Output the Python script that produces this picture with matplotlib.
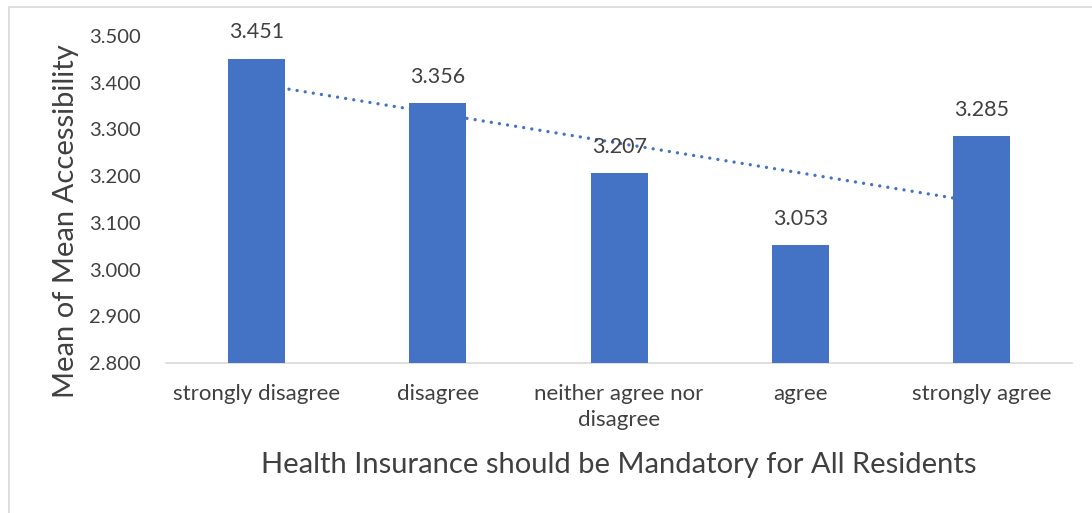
import numpy as np
import matplotlib.pyplot as plt
from matplotlib.patches import Rectangle

categories = ['strongly disagree', 'disagree', 'neither agree nor\ndisagree', 'agree', 'strongly agree']
means = [3.451, 3.356, 3.207, 3.053, 3.285]
yticks = [2.8, 2.9, 3.0, 3.1, 3.2, 3.3, 3.4, 3.5]

bar_color = '#4472C4'
text_color = '#404040'

plt.rcParams['font.family'] = ['Lato', 'DejaVu Sans']

fig = plt.figure(figsize=(10.92, 5.13), dpi=100)
ax = fig.add_axes([0.152, 0.292, 0.830, 0.638])

x = np.arange(len(categories))
ax.bar(x, means, width=0.315, color=bar_color, zorder=3)

# linear trendline over the category index
slope, intercept = np.polyfit(x, means, 1)
ax.plot(x, slope * x + intercept, color=bar_color, linestyle=(0, (0.01, 2.45)),
        linewidth=2.4, dash_capstyle='round', zorder=2)

for xi, v in zip(x, means):
    ax.text(xi, v + 0.035, f'{v:.3f}', ha='center', va='bottom',
            fontsize=15.5, color=text_color, zorder=4)

ax.set_xlim(-0.5, len(categories) - 0.5)
ax.set_ylim(2.8, 3.5)
ax.set_yticks(yticks)
ax.set_yticklabels([f'{t:.3f}' for t in yticks], fontsize=14.5)
ax.set_xticks(x)
ax.set_xticklabels(categories, linespacing=1.35, fontsize=16)
ax.tick_params(axis='both', length=0, colors=text_color)
ax.tick_params(axis='x', pad=15)
ax.tick_params(axis='y', pad=18)

for side in ['top', 'right', 'left']:
    ax.spines[side].set_visible(False)
ax.spines['bottom'].set_color('#D9D9D9')
ax.spines['bottom'].set_linewidth(1.2)

ax.set_ylabel('Mean of Mean Accessibility', fontsize=21, color=text_color)
ax.yaxis.set_label_coords(-0.096, 0.434)
ax.set_xlabel('Health Insurance should be Mandatory for All Residents',
              fontsize=21, color=text_color, labelpad=16)

# chart area border
fig.patches.append(Rectangle((0.008, -0.01), 1.5, 0.997, transform=fig.transFigure,
                             fill=False, edgecolor='#D9D9D9', linewidth=1.2))

fig.savefig('out.png', dpi=100)
